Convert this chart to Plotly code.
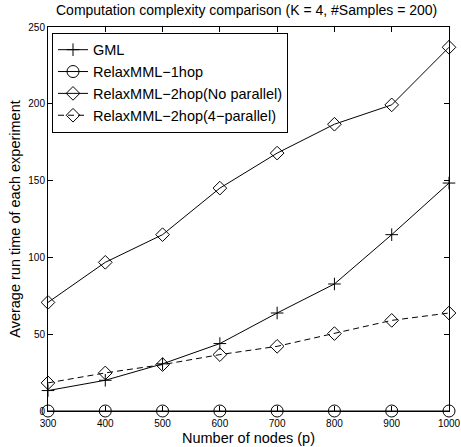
import plotly.graph_objects as go

nodes = [300, 400, 500, 600, 700, 800, 900, 1000]
gml = [13.3, 20.0, 30.7, 43.9, 63.8, 82.7, 114.8, 148.4]
relax_1hop = [0, 0, 0, 0, 0, 0, 0, 0]
relax_2hop_nopar = [70.7, 96.8, 114.8, 145.1, 167.9, 186.7, 199.3, 236.8]
relax_2hop_4par = [18.3, 24.8, 30.2, 36.7, 42.1, 50.4, 59.0, 63.8]

series_names = ["GML", "RelaxMML\u22121hop", "RelaxMML\u22122hop(No parallel)", "RelaxMML\u22122hop(4\u2212parallel)"]
x_ticks = [300, 400, 500, 600, 700, 800, 900, 1000]
y_ticks = [0, 50, 100, 150, 200, 250]

FONT = "Liberation Sans, Arial, sans-serif"

fig = go.Figure()
styles = [
    (gml, "cross-thin-open", 9, "solid"),
    (relax_1hop, "circle-open", 12, "solid"),
    (relax_2hop_nopar, "diamond-open", 10.5, "solid"),
    (relax_2hop_4par, "diamond-open", 10.5, "6px,4px"),
]
for name, (vals, sym, sz, dash) in zip(series_names, styles):
    fig.add_trace(go.Scatter(
        x=nodes, y=vals, name=name, mode="lines+markers",
        line=dict(color="black", width=1, dash=dash),
        marker=dict(symbol=sym, size=sz, color="black", line=dict(color="black", width=1)),
        cliponaxis=False,
    ))

axis_common = dict(
    showline=True, linecolor="black", linewidth=1, mirror="ticks",
    ticks="inside", ticklen=5, tickcolor="black", tickwidth=1,
    showgrid=False, zeroline=False, automargin=False,
    tickfont=dict(family=FONT, size=10, color="black"),
)

fig.update_layout(
    width=461, height=447,
    margin=dict(l=48, r=12, t=27, b=36),
    paper_bgcolor="white", plot_bgcolor="white",
    title=dict(text="Computation complexity comparison (K = 4, #Samples = 200)",
               x=0.535, xanchor="center", y=0.977, yanchor="middle",
               font=dict(family=FONT, size=14, color="black")),
    xaxis=dict(range=[300, 1000], tickvals=x_ticks, ticktext=[str(v) for v in x_ticks],
               ticklabelstandoff=3,
               title=dict(text="Number of nodes (p)", font=dict(family=FONT, size=14.5, color="black"), standoff=4),
               **axis_common),
    yaxis=dict(range=[0, 250], tickvals=y_ticks, ticktext=[str(v) for v in y_ticks],
               title=dict(text="Average run time of each experiment", font=dict(family=FONT, size=14.5, color="black"), standoff=4),
               **axis_common),
    legend=dict(x=0.01, y=0.985, xanchor="left", yanchor="top",
                bordercolor="black", borderwidth=1, bgcolor="white",
                font=dict(family=FONT, size=14.5, color="black"),
                tracegroupgap=0, itemwidth=30),
    showlegend=True,
)

fig.write_html("out.html")
